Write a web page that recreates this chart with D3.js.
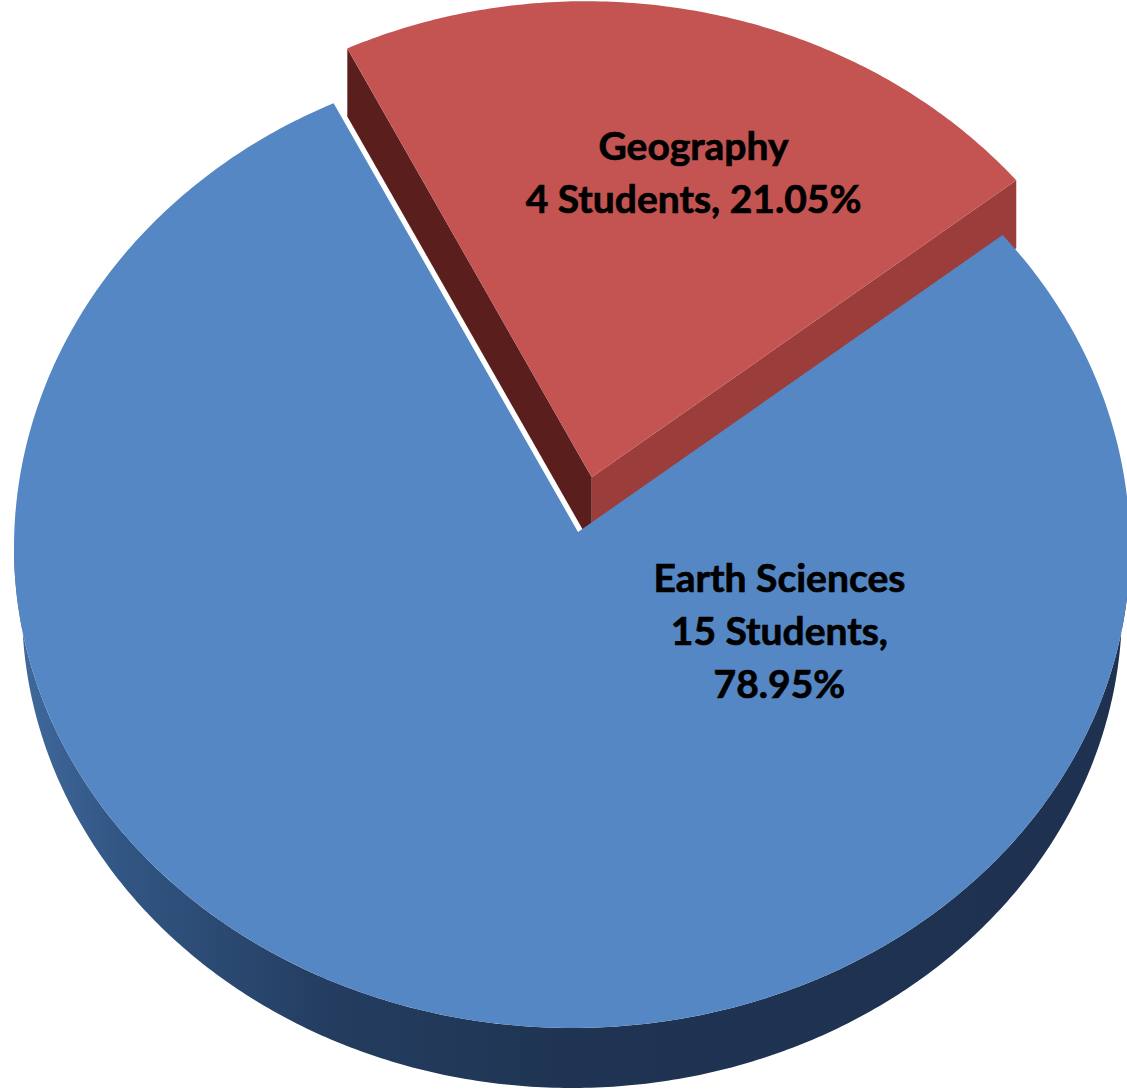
<!DOCTYPE html>
<html><head><meta charset="utf-8">
<script src="https://cdn.jsdelivr.net/npm/d3@7"></script>
<style>html,body{margin:0;padding:0;background:#fff;}svg{display:block;}</style>
</head><body>
<svg id="chart" width="1127" height="1091"></svg>
<script>
// ---- data ----
const categories = ["Earth Sciences", "Geography"];
const students = [15, 4];
const unit = "Students";
const topColors = ["#5587c4", "#c45452"];

// ---- layout (projection of the tilted 3D pie) ----
const W = 1127, H = 1091;
const cx = 572, cy = 548, rx = 558, ryTop = 492, ryBot = 480;
const tip = [578, 532];          // projected pie centre
const blueDepth = 60, rxBottom = 550;
const redDepth = 68;
const explodeFrac = [0, 0.118];
const startDeg = 50.5;
const labelPos = [{a: 117, r: 0.41, lines: 3, dy: 17}, {a: 16.5, r: 0.668, lines: 2, dy: 14}];

const svg = d3.select("#chart");
const defs = svg.append("defs");
const sideGrad = defs.append("linearGradient").attr("id", "sideGrad")
  .attr("gradientUnits", "userSpaceOnUse").attr("x1", 14).attr("x2", 1130).attr("y1", 0).attr("y2", 0);
[[0, "#416a9e"], [0.1, "#315582"], [0.28, "#243d60"], [0.5, "#1f3452"], [1, "#1e3150"]]
  .forEach(([o, c]) => sideGrad.append("stop").attr("offset", o).attr("stop-color", c));

function rim(t, rxx = rx, dy = 0) {
  const c = Math.cos(t);
  return [cx + rxx * Math.sin(t), cy + dy - (c > 0 ? ryTop : ryBot) * c];
}
const line = d3.line();
const total = d3.sum(students);
const pie = d3.pie().sort(null)
  .startAngle(startDeg * Math.PI / 180)
  .endAngle(startDeg * Math.PI / 180 + 2 * Math.PI);
const arcs = pie(students);

function arcPoints(a0, a1, off, rxx, dy) {
  const n = Math.max(8, Math.ceil(Math.abs(a1 - a0) / 0.01));
  return d3.range(n + 1).map(i => {
    const p = rim(a0 + (a1 - a0) * i / n, rxx, dy);
    return [p[0] + off[0], p[1] + off[1]];
  });
}
function offsetFor(d, i) {
  const m = (d.startAngle + d.endAngle) / 2;
  const p = rim(m);
  return [(p[0] - tip[0]) * explodeFrac[i], (p[1] - tip[1]) * explodeFrac[i]];
}

const g = svg.append("g");

// exploded slice (Geography) drawn first: its radial side faces, then top
arcs.forEach((d, i) => {
  if (explodeFrac[i] === 0) return;
  const off = offsetFor(d, i);
  const c = [tip[0] + off[0], tip[1] + off[1]];
  const p0 = rim(d.startAngle), p1 = rim(d.endAngle);
  const s0 = [p0[0] + off[0], p0[1] + off[1]], s1 = [p1[0] + off[0], p1[1] + off[1]];
  // face along the right edge (lit)
  g.append("path").attr("d", line([c, s1, [s1[0], s1[1] + redDepth], [c[0], c[1] + redDepth]]) + "Z")
    .attr("fill", "#9b3e3b");
  // face along the left edge (shadowed)
  g.append("path").attr("d", line([c, s0, [s0[0], s0[1] + redDepth], [c[0], c[1] + redDepth]]) + "Z")
    .attr("fill", "#5a1f1d");
  g.append("path").attr("d", line([c, ...arcPoints(d.startAngle, d.endAngle, off)]) + "Z")
    .attr("fill", topColors[i]);
});

// main slice: outer side wall (front half), then top
arcs.forEach((d, i) => {
  if (explodeFrac[i] !== 0) return;
  const a0 = Math.max(d.startAngle, Math.PI / 2), a1 = Math.min(d.endAngle, 3 * Math.PI / 2);
  const topPts = arcPoints(a0, a1, [0, 0]);
  const botPts = arcPoints(a1, a0, [0, 0], rxBottom, blueDepth);
  g.append("path").attr("d", line([...topPts, ...botPts]) + "Z").attr("fill", "url(#sideGrad)");
  g.append("path").attr("d", line([tip, ...arcPoints(d.startAngle, d.endAngle, [0, 0])]) + "Z")
    .attr("fill", topColors[i]);
});

// labels
const fmtPct = v => (v * 100).toFixed(2) + "%";
arcs.forEach((d, i) => {
  const lp = labelPos[i];
  const off = offsetFor(d, i);
  const p = rim(lp.a * Math.PI / 180);
  const x = tip[0] + off[0] + (p[0] - tip[0]) * lp.r;
  const y = tip[1] + off[1] + (p[1] - tip[1]) * lp.r;
  const name = categories[i], cnt = `${students[i]} ${unit},`, pct = fmtPct(students[i] / total);
  const lines = lp.lines === 3 ? [name, cnt, pct] : [name, `${cnt} ${pct}`];
  const lh = 53;
  const t = g.append("text").attr("text-anchor", "middle")
    .attr("font-family", "Lato, 'Open Sans', sans-serif").attr("font-weight", "bold")
    .attr("font-size", 39).attr("fill", "#000")
    .attr("stroke", "#000").attr("stroke-width", 0.7);
  lines.forEach((s, k) => {
    t.append("tspan").attr("x", x).attr("y", y + (k - (lines.length - 1) / 2) * lh + lp.dy).text(s);
  });
});
</script>
</body></html>
